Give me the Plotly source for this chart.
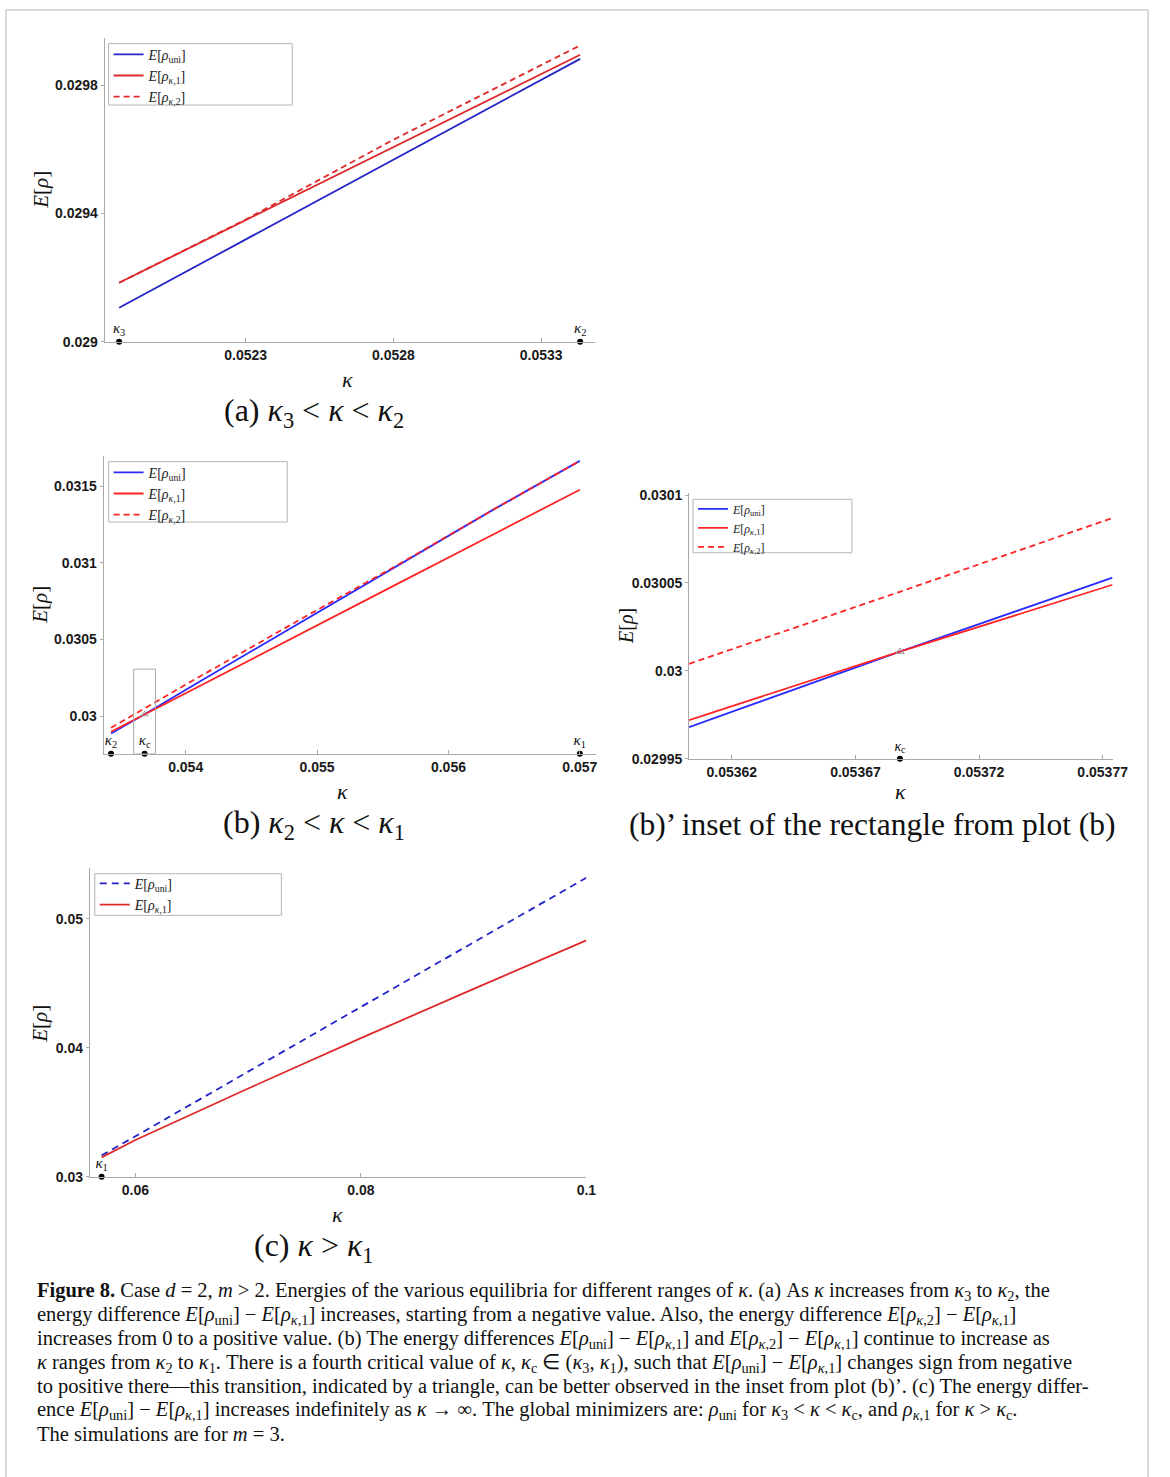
import plotly.graph_objects as go

W, H = 1170, 1477

# ---------------- data ----------------
# (a) kappa3 < kappa < kappa2
ka = [0.051872, 0.0523, 0.0528, 0.0533, 0.053432]
a_uni = [0.029106, 0.029319, 0.029568, 0.029816, 0.029882]
a_k1 = [0.029184, 0.029379, 0.029607, 0.029835, 0.029895]
a_k2 = [0.029184, 0.029381, 0.029630, 0.029864, 0.029924]
a_crit_k = [0.051872, 0.053432]
a_crit_lbl = ["<i>κ</i><sub>3</sub>", "<i>κ</i><sub>2</sub>"]
a_xticks = [0.0523, 0.0528, 0.0533]
a_xtext = ["0.0523", "0.0528", "0.0533"]
a_yticks = [0.029, 0.0294, 0.0298]
a_ytext = ["0.029", "0.0294", "0.0298"]

# (b) kappa2 < kappa < kappa1
kb = [0.053432, 0.053688, 0.054098, 0.054848, 0.0556, 0.056348, 0.057]
b_uni = [0.029886, 0.030011, 0.030221, 0.030597, 0.030974, 0.031351, 0.031666]
b_k1 = [0.029897, 0.030011, 0.030193, 0.030525, 0.030858, 0.031189, 0.031478]
b_k2 = [0.029923, 0.030050, 0.030253, 0.030619, 0.030980, 0.031351, 0.031666]
b_crit_k = [0.053432, 0.053688, 0.057]
b_crit_lbl = ["<i>κ</i><sub>2</sub>", "<i>κ</i><sub>c</sub>", "<i>κ</i><sub>1</sub>"]
b_cross = [0.053688, 0.030011]
b_rect = [0.053604, 0.053771, 0.029753, 0.030306]
b_xticks = [0.054, 0.055, 0.056, 0.057]
b_xtext = ["0.054", "0.055", "0.056", "0.057"]
b_yticks = [0.03, 0.0305, 0.031, 0.0315]
b_ytext = ["0.03", "0.0305", "0.031", "0.0315"]

# (b)' inset
ki = [0.0536027, 0.053688, 0.053774]
i_uni = [0.029968, 0.030011, 0.030053]
i_k1 = [0.029972, 0.030011, 0.030049]
i_k2 = [0.030004, 0.030045, 0.030087]
i_crit_k = [0.053688]
i_crit_lbl = ["<i>κ</i><sub>c</sub>"]
i_xticks = [0.05362, 0.05367, 0.05372, 0.05377]
i_xtext = ["0.05362", "0.05367", "0.05372", "0.05377"]
i_yticks = [0.02995, 0.03, 0.03005, 0.0301]
i_ytext = ["0.02995", "0.03", "0.03005", "0.0301"]

# (c) kappa > kappa1
kc = [0.057, 0.06, 0.07, 0.08, 0.09, 0.1]
c_uni = [0.03166, 0.033144, 0.038158, 0.043172, 0.048186, 0.0532]
c_k1 = [0.03151, 0.03285, 0.03685, 0.04075, 0.04458, 0.04834]
c_crit_k = [0.057]
c_crit_lbl = ["<i>κ</i><sub>1</sub>"]
c_xticks = [0.06, 0.08, 0.1]
c_xtext = ["0.06", "0.08", "0.1"]
c_yticks = [0.03, 0.04, 0.05]
c_ytext = ["0.03", "0.04", "0.05"]

# axis ranges
a_xr, a_yr = [0.051823, 0.053483], [0.029, 0.029948]
b_xr, b_yr = [0.053376, 0.057125], [0.029753, 0.0317]
i_xr, i_yr = [0.0536027, 0.053774], [0.02995, 0.030101]
c_xr, c_yr = [0.055955, 0.1], [0.03, 0.05397]

# ---------------- styling ----------------
SERIF = "Liberation Serif"
SANS = "Liberation Sans"
BLUE_A, RED_A = "#2424c8", "#dd2a2a"
BLUE_B, RED_B = "#2a2aff", "#ff2424"
AXC = "#a9a9a9"

L_UNI = "<i>E</i>[<i>ρ</i><sub>uni</sub>]"
L_K1 = "<i>E</i>[<i>ρ</i><sub><i>κ</i>,1</sub>]"
L_K2 = "<i>E</i>[<i>ρ</i><sub><i>κ</i>,2</sub>]"


def px_dom_x(l, r):
    return [l / W, r / W]


def px_dom_y(top, bot):
    return [1 - bot / H, 1 - top / H]


fig = go.Figure()


def axn(ax, kind):
    return kind if ax == "1" else kind + ax


def add_line(x, y, color, dash, name, ax, legend, width=1.8):
    fig.add_trace(go.Scatter(
        x=x, y=y, mode="lines", name=name,
        line=dict(color=color, width=width, dash=dash),
        xaxis=axn(ax, "x"), yaxis=axn(ax, "y"),
        legend=legend, showlegend=True))


def add_crit(xs, ybase, labels, ax, size=15):
    fig.add_trace(go.Scatter(
        x=xs, y=[ybase] * len(xs), mode="markers+text",
        marker=dict(color="black", size=6),
        text=labels, textposition="top center",
        textfont=dict(family=SERIF, size=size, color="#111"),
        cliponaxis=False, showlegend=False, hoverinfo="skip",
        xaxis=axn(ax, "x"), yaxis=axn(ax, "y")))


# (a)
add_line(ka, a_uni, BLUE_A, "solid", L_UNI, "1", "legend")
add_line(ka, a_k1, RED_A, "solid", L_K1, "1", "legend")
add_line(ka, a_k2, RED_A, "6px,4px", L_K2, "1", "legend")
add_crit(a_crit_k, a_yr[0], a_crit_lbl, "1")

# (b)
add_line(kb, b_uni, BLUE_B, "solid", L_UNI, "2", "legend2")
add_line(kb, b_k1, RED_B, "solid", L_K1, "2", "legend2")
add_line(kb, b_k2, RED_B, "6px,4px", L_K2, "2", "legend2")
add_crit(b_crit_k, b_yr[0], b_crit_lbl, "2")
fig.add_trace(go.Scatter(x=[b_cross[0]], y=[b_cross[1]], mode="markers",
                         marker=dict(symbol="triangle-up-open", size=6, color="#999"),
                         showlegend=False, hoverinfo="skip", xaxis="x2", yaxis="y2"))

# (b)'
add_line(ki, i_uni, BLUE_B, "solid", L_UNI, "3", "legend3")
add_line(ki, i_k1, RED_B, "solid", L_K1, "3", "legend3")
add_line(ki, i_k2, RED_B, "6px,4px", L_K2, "3", "legend3")
add_crit(i_crit_k, i_yr[0], i_crit_lbl, "3", size=14)
fig.add_trace(go.Scatter(x=[b_cross[0]], y=[b_cross[1]], mode="markers",
                         marker=dict(symbol="triangle-up-open", size=7, color="#999"),
                         showlegend=False, hoverinfo="skip", xaxis="x3", yaxis="y3"))

# (c)
add_line(kc, c_uni, BLUE_A, "7px,5px", L_UNI, "4", "legend4")
add_line(kc, c_k1, RED_A, "solid", L_K1, "4", "legend4")
add_crit(c_crit_k, c_yr[0], c_crit_lbl, "4")

# ---------------- axes ----------------
tickfont = dict(family=SANS, size=14, color="#1a1a1a", weight="bold")


def xax(dom, rng, tv, tt, anchor):
    return dict(domain=dom, range=rng, tickvals=tv, ticktext=tt, anchor=anchor,
                showline=True, linecolor=AXC, linewidth=1, ticks="inside",
                ticklen=4, tickcolor=AXC, showgrid=False, zeroline=False,
                tickfont=tickfont)


def yax(dom, rng, tv, tt, anchor):
    return dict(domain=dom, range=rng, tickvals=tv, ticktext=tt, anchor=anchor,
                showline=True, linecolor=AXC, linewidth=1, ticks="outside",
                ticklen=3, tickcolor=AXC, showgrid=False, zeroline=False,
                tickfont=tickfont)


dA = (px_dom_x(106, 603), px_dom_y(32, 339))
dB = (px_dom_x(105, 604), px_dom_y(454, 755))
dI = (px_dom_x(698, 1127), px_dom_y(492, 760))
dC = (px_dom_x(91, 594), px_dom_y(870, 1182))


def legend_at(xpx, ypx, size=14):
    return dict(x=xpx / W, y=1 - ypx / H, xanchor="left", yanchor="top",
                bgcolor="rgba(0,0,0,0)", borderwidth=0,
                font=dict(family=SERIF, size=size, color="#222"),
                tracegroupgap=0, itemwidth=30)


shapes = []


def box(x0, y0, x1, y1, color="#b5b5b5", ref=("paper", "paper")):
    shapes.append(dict(type="rect", xref=ref[0], yref=ref[1],
                       x0=x0, y0=y0, x1=x1, y1=y1,
                       line=dict(color=color, width=1), fillcolor="rgba(0,0,0,0)"))


def pbox(l, t, r, b):
    box(l / W, 1 - b / H, r / W, 1 - t / H)


pbox(6, 4, 1163, 1500)          # page frame
pbox(110, 38, 296, 100)          # legend (a)
pbox(110, 460, 291, 521)         # legend (b)
pbox(702, 498, 863, 552)         # legend (b)'
pbox(96, 876, 285, 918)          # legend (c)
box(b_rect[0], b_rect[2], b_rect[1], b_rect[3], color="#aaaaaa", ref=("x2", "y2"))

annotations = []


def txt(text, xc, yc, size, angle=0, family=SERIF):
    annotations.append(dict(text=text, x=xc / W, y=1 - yc / H, xref="paper", yref="paper",
                            showarrow=False, xanchor="center", yanchor="middle",
                            textangle=angle,
                            font=dict(family=family, size=size, color="#111")))


# axis titles
KT = "<i>κ</i>"
ET = "<i>E</i>[<i>ρ</i>]"
txt(KT, 352, 377, 22)
txt(KT, 347, 793, 22)
txt(KT, 912, 793, 22)
txt(KT, 342, 1220, 22)
txt(ET, 42, 185, 21, -90)
txt(ET, 41, 604, 21, -90)
txt(ET, 634, 626, 20, -90)
txt(ET, 41, 1027, 21, -90)

# sub-captions
txt("(a) <i>κ</i><sub>3</sub> &lt; <i>κ</i> &lt; <i>κ</i><sub>2</sub>", 318, 410, 32)
txt("(b) <i>κ</i><sub>2</sub> &lt; <i>κ</i> &lt; <i>κ</i><sub>1</sub>", 318, 826, 32)
txt("(b)’ inset of the rectangle from plot (b)", 884, 826, 31.5)
txt("(c) <i>κ</i> &gt; <i>κ</i><sub>1</sub>", 318, 1253, 32)

caption_lines = [
    "<b>Figure 8.</b> Case <i>d</i> = 2, <i>m</i> &gt; 2. Energies of the various equilibria for different ranges of <i>κ</i>. (a) As <i>κ</i> increases from <i>κ</i><sub>3</sub> to <i>κ</i><sub>2</sub>, the",
    "energy difference <i>E</i>[<i>ρ</i><sub>uni</sub>] − <i>E</i>[<i>ρ</i><sub><i>κ</i>,1</sub>] increases, starting from a negative value. Also, the energy difference <i>E</i>[<i>ρ</i><sub><i>κ</i>,2</sub>] − <i>E</i>[<i>ρ</i><sub><i>κ</i>,1</sub>]",
    "increases from 0 to a positive value. (b) The energy differences <i>E</i>[<i>ρ</i><sub>uni</sub>] − <i>E</i>[<i>ρ</i><sub><i>κ</i>,1</sub>] and <i>E</i>[<i>ρ</i><sub><i>κ</i>,2</sub>] − <i>E</i>[<i>ρ</i><sub><i>κ</i>,1</sub>] continue to increase as",
    "<i>κ</i> ranges from <i>κ</i><sub>2</sub> to <i>κ</i><sub>1</sub>. There is a fourth critical value of <i>κ</i>, <i>κ</i><sub>c</sub> ∈ (<i>κ</i><sub>3</sub>, <i>κ</i><sub>1</sub>), such that <i>E</i>[<i>ρ</i><sub>uni</sub>] − <i>E</i>[<i>ρ</i><sub><i>κ</i>,1</sub>] changes sign from negative",
    "to positive there—this transition, indicated by a triangle, can be better observed in the inset from plot (b)’. (c) The energy differ-",
    "ence <i>E</i>[<i>ρ</i><sub>uni</sub>] − <i>E</i>[<i>ρ</i><sub><i>κ</i>,1</sub>] increases indefinitely as <i>κ</i> → ∞. The global minimizers are: <i>ρ</i><sub>uni</sub> for <i>κ</i><sub>3</sub> &lt; <i>κ</i> &lt; <i>κ</i><sub>c</sub>, and <i>ρ</i><sub><i>κ</i>,1</sub> for <i>κ</i> &gt; <i>κ</i><sub>c</sub>.",
    "The simulations are for <i>m</i> = 3.",
]
for i, line in enumerate(caption_lines):
    annotations.append(dict(text=line, x=35 / W, y=1 - (1298 + 24 * i) / H,
                            xref="paper", yref="paper", showarrow=False,
                            xanchor="left", yanchor="middle",
                            font=dict(family=SERIF, size=20.5, color="#111")))

fig.update_layout(
    width=W, height=H, margin=dict(l=0, r=0, t=0, b=0),
    paper_bgcolor="white", plot_bgcolor="white",
    xaxis=xax(dA[0], a_xr, a_xticks, a_xtext, "y"),
    yaxis=yax(dA[1], a_yr, a_yticks, a_ytext, "x"),
    xaxis2=xax(dB[0], b_xr, b_xticks, b_xtext, "y2"),
    yaxis2=yax(dB[1], b_yr, b_yticks, b_ytext, "x2"),
    xaxis3=xax(dI[0], i_xr, i_xticks, i_xtext, "y3"),
    yaxis3=yax(dI[1], i_yr, i_yticks, i_ytext, "x3"),
    xaxis4=xax(dC[0], c_xr, c_xticks, c_xtext, "y4"),
    yaxis4=yax(dC[1], c_yr, c_yticks, c_ytext, "x4"),
    legend=legend_at(110, 33),
    legend2=legend_at(110, 455),
    legend3=legend_at(702, 493, size=12),
    legend4=legend_at(96, 870),
    shapes=shapes, annotations=annotations,
    showlegend=True,
)

fig.write_html("out.html")
